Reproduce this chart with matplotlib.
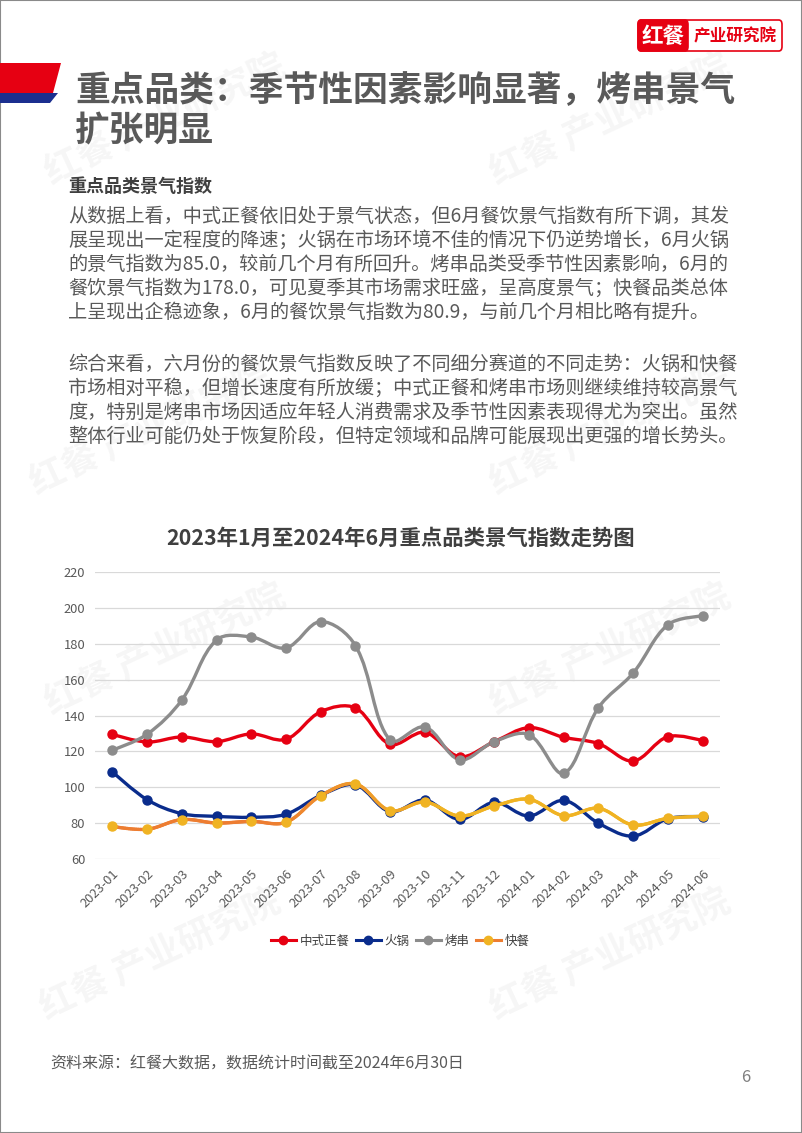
import numpy as np
import matplotlib
matplotlib.use("Agg")
import matplotlib.pyplot as plt
from matplotlib.path import Path
from matplotlib.patches import PathPatch, Polygon, FancyBboxPatch, Rectangle
from matplotlib.collections import LineCollection
from matplotlib.lines import Line2D
from matplotlib.colors import LinearSegmentedColormap, Normalize

plt.rcParams['font.family'] = ['Noto Sans CJK SC', 'DejaVu Sans']

# ---- data ----
months = ['2023-01', '2023-02', '2023-03', '2023-04', '2023-05', '2023-06',
          '2023-07', '2023-08', '2023-09', '2023-10', '2023-11', '2023-12',
          '2024-01', '2024-02', '2024-03', '2024-04', '2024-05', '2024-06']
zhongcan = [129.6, 125.3, 128.1, 125.5, 129.8, 126.8, 142.2, 144.3, 124.0,
            130.7, 117.1, 125.5, 133.3, 127.9, 124.4, 114.7, 128.3, 126.0]
huoguo = [108.7, 93.1, 85.3, 83.8, 83.3, 85.0, 95.5, 101.3, 86.4,
          92.9, 82.1, 91.6, 84.0, 92.7, 80.0, 72.8, 82.5, 83.6]
kaochuan = [120.8, 129.6, 148.7, 182.2, 183.9, 177.8, 192.5, 179.1, 126.2,
            133.7, 115.4, 125.5, 129.4, 107.8, 144.5, 163.8, 190.8, 195.6]
kuaican = [78.2, 76.6, 82.0, 80.1, 81.0, 80.5, 95.3, 101.9, 87.0,
           91.8, 84.0, 89.6, 93.3, 84.2, 88.3, 79.0, 82.7, 83.8]
series_names = ['中式正餐', '火锅', '烤串', '快餐']
yticks = [60, 80, 100, 120, 140, 160, 180, 200, 220]

page_title = ['重点品类：季节性因素影响显著，烤串景气', '扩张明显']
sub_head = '重点品类景气指数'
para1 = ['从数据上看，中式正餐依旧处于景气状态，但6月餐饮景气指数有所下调，其发',
         '展呈现出一定程度的降速；火锅在市场环境不佳的情况下仍逆势增长，6月火锅',
         '的景气指数为85.0，较前几个月有所回升。烤串品类受季节性因素影响，6月的',
         '餐饮景气指数为178.0，可见夏季其市场需求旺盛，呈高度景气；快餐品类总体',
         '上呈现出企稳迹象，6月的餐饮景气指数为80.9，与前几个月相比略有提升。']
para2 = ['综合来看，六月份的餐饮景气指数反映了不同细分赛道的不同走势：火锅和快餐',
         '市场相对平稳，但增长速度有所放缓；中式正餐和烤串市场则继续维持较高景气',
         '度，特别是烤串市场因适应年轻人消费需求及季节性因素表现得尤为突出。虽然',
         '整体行业可能仍处于恢复阶段，但特定领域和品牌可能展现出更强的增长势头。']
chart_title = '2023年1月至2024年6月重点品类景气指数走势图'
source = '资料来源：红餐大数据，数据统计时间截至2024年6月30日'

RED = '#E60012'
BLUE = '#0A2C8C'
GRAY = '#8C8C8C'
ORANGE = '#ED7D31'
GOLD = '#F0B323'

W, H = 802, 1133
fig = plt.figure(figsize=(W / 100, H / 100), dpi=100)


def px(x, y):
    return x / W, 1 - y / H


def smooth_path(xs, ys, smooth=0.35, sx=34.7, sy=1.794):
    # bezier through the points, control points weighted by segment length
    P = np.column_stack([np.asarray(xs, float) * sx, np.asarray(ys, float) * sy])
    n = len(P)
    cout = P.copy()
    cin = P.copy()
    for i in range(1, n - 1):
        v = P[i + 1] - P[i - 1]
        l0 = np.hypot(*(P[i] - P[i - 1]))
        l1 = np.hypot(*(P[i + 1] - P[i]))
        r = l1 / (l0 + l1)
        cout[i] = P[i] + v * smooth * r
        cin[i] = P[i] - v * smooth * (1 - r)
    verts = [P[0]]
    codes = [Path.MOVETO]
    for i in range(n - 1):
        verts += [cout[i], cin[i + 1], P[i + 1]]
        codes += [Path.CURVE4] * 3
    verts = np.array(verts) / [sx, sy]
    return Path(verts, codes)


# ---- watermarks ----
for cx, cy in [(165, 120), (610, 120), (150, 430), (610, 430),
               (165, 650), (610, 650), (160, 955), (610, 955)]:
    fig.text(*px(cx, cy), '红餐 产业研究院', fontsize=26, fontweight='bold',
             color='#000000', alpha=0.04, rotation=25, ha='center', va='center',
             zorder=-5)

# ---- page frame ----
fig.patches.append(Rectangle((0, 0), 1, 1, transform=fig.transFigure,
                             fill=False, edgecolor='#8a8a8a', lw=1.5))

# ---- logo ----
fig.patches.append(FancyBboxPatch(px(638, 51), 144 / W, 31 / H,
                                  boxstyle='round,pad=0,rounding_size=0.004',
                                  transform=fig.transFigure, facecolor='white',
                                  edgecolor=RED, lw=1.2))
fig.patches.append(FancyBboxPatch(px(638, 51), 50 / W, 31 / H,
                                  boxstyle='round,pad=0,rounding_size=0.004',
                                  transform=fig.transFigure, facecolor=RED,
                                  edgecolor=RED, lw=1.2))
fig.text(*px(663, 36), '红餐', fontsize=15.5, fontweight='bold', color='white',
         ha='center', va='center')
fig.text(*px(735, 36), '产业研究院', fontsize=12, fontweight='bold', color=RED,
         ha='center', va='center')

# ---- header bar ----
fig.patches.append(Polygon([px(0, 63), px(61, 63), px(53, 93), px(0, 93)],
                           closed=True, transform=fig.transFigure,
                           facecolor=RED, edgecolor='none'))
fig.patches.append(Polygon([px(0, 93), px(58, 93), px(50, 103), px(0, 103)],
                           closed=True, transform=fig.transFigure,
                           facecolor='#1B2F8F', edgecolor='none'))

# ---- page title ----
for i, line in enumerate(page_title):
    fig.text(*px(75, 91 + i * 40), line, fontsize=25, fontweight='heavy',
             color='#595959', ha='left', va='center')

fig.text(*px(68, 186), sub_head, fontsize=13, fontweight='bold',
         color='#404040', ha='left', va='center')
for i, line in enumerate(para1):
    fig.text(*px(68, 216 + i * 24), line, fontsize=13.8, color='#595959',
             ha='left', va='center')
for i, line in enumerate(para2):
    fig.text(*px(68, 364 + i * 24), line, fontsize=13.8, color='#595959',
             ha='left', va='center')

fig.text(*px(401, 538), chart_title, fontsize=15.4, fontweight='bold',
         color='#404040', ha='center', va='center')

# ---- chart ----
ax = fig.add_axes([95 / W, 1 - 859 / H, 625 / W, 286.7 / H])
ax.patch.set_alpha(0)
x = np.arange(len(months))

for vals, col in [(zhongcan, RED), (huoguo, BLUE), (kaochuan, GRAY)]:
    ax.add_patch(PathPatch(smooth_path(x, vals), facecolor='none',
                           edgecolor=col, lw=2.4, capstyle='round',
                           joinstyle='round', zorder=3))
    ax.plot(x, vals, 'o', color=col, ms=6.5, zorder=4)

# fast food line: orange -> gold gradient along x
path = smooth_path(x, kuaican)
pts = []
for seg, code in path.iter_bezier():
    if code == Path.CURVE4:
        pts.append(seg(np.linspace(0, 1, 25)))
pts = np.vstack(pts)
segs = np.stack([pts[:-1], pts[1:]], axis=1)
cmap = LinearSegmentedColormap.from_list('og', [ORANGE, GOLD])
lc = LineCollection(segs, cmap=cmap, norm=Normalize(4.5, 9.5), lw=2.4,
                    capstyle='round', zorder=5)
lc.set_array(np.clip(segs[:, 0, 0], 4.5, 9.5))
ax.add_collection(lc)
ax.plot(x, kuaican, 'o', color=GOLD, ms=6.5, zorder=6)

ax.set_xlim(-0.5, len(months) - 0.5)
ax.set_ylim(60, 220)
ax.set_yticks(yticks)
ax.set_xticks(x)
ax.set_xticklabels(months, rotation=45, ha='right', rotation_mode='anchor')
ax.tick_params(axis='both', length=0, colors='#595959', labelsize=9.3)
ax.tick_params(axis='y', pad=7)
ax.tick_params(axis='x', pad=6, labelsize=9.3)
ax.grid(axis='y', color='#D9D9D9', lw=0.9)
ax.set_axisbelow(True)
for s in ax.spines.values():
    s.set_visible(False)

handles = [
    Line2D([], [], color=RED, marker='o', ms=6, lw=2.2),
    Line2D([], [], color=BLUE, marker='o', ms=6, lw=2.2),
    Line2D([], [], color=GRAY, marker='o', ms=6, lw=2.2),
    Line2D([], [], color=ORANGE, marker='o', ms=6, lw=2.2,
           markerfacecolor=GOLD, markeredgecolor=GOLD),
]
fig.legend(handles, series_names, loc='center', bbox_to_anchor=px(400, 941),
           ncol=4, frameon=False, fontsize=9, handlelength=2.0,
           handletextpad=0.3, columnspacing=0.5, labelcolor='#404040')

fig.text(*px(50, 1064), source, fontsize=11.5, color='#595959',
         ha='left', va='center')
fig.text(*px(746, 1078), '6', fontsize=12, color='#7F7F7F',
         ha='center', va='center')

fig.savefig('out.png', dpi=100)
